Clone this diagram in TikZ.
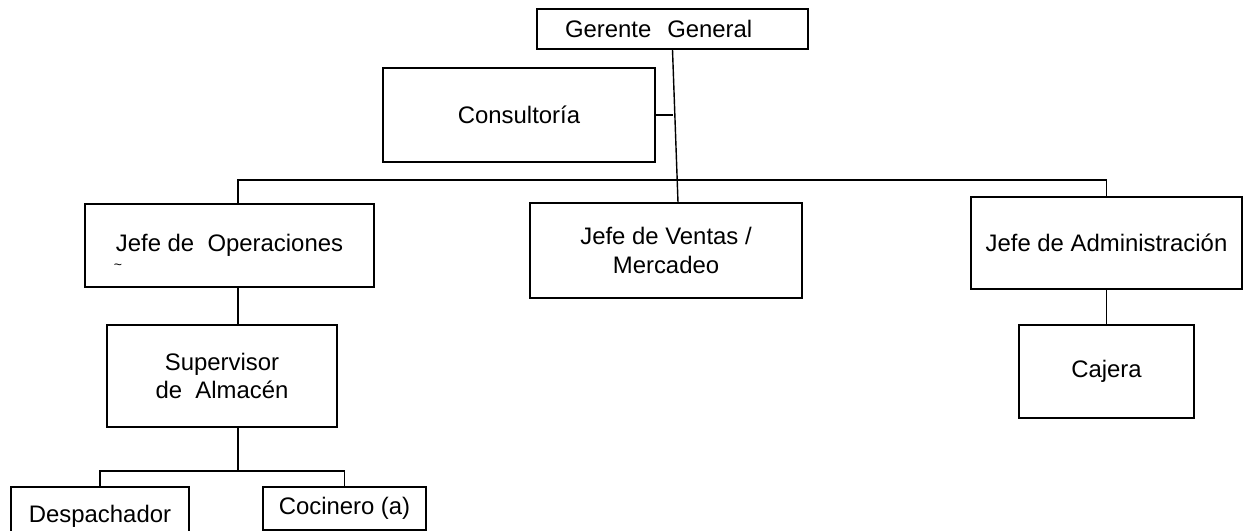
\documentclass[tikz,border=0pt]{standalone}
\usepackage{fontspec}
\setmainfont{Liberation Sans}
\usetikzlibrary{calc}

\tikzset{
    box/.style={draw, line width=0.8pt, inner sep=0pt, align=center,
        font=\fontsize{13.6}{16}\selectfont},
    conn/.style={line width=0.8pt}
}

\begin{document}
\begin{tikzpicture}[x=0.02cm, y=-0.02cm]

\clip (0,0) rectangle (1249,531);

% Top level
\node[box, minimum width=5.42cm, minimum height=0.8cm, text width=4.3cm,
      align=left, inner xsep=0.56cm] (gerente) at (672.5,29) {Gerente\ \ General};
\node[box, minimum width=5.44cm, minimum height=1.88cm] (consult) at (519,115) {Consultoría};

% Jefes
\node[box, minimum width=5.78cm, minimum height=1.66cm] (ops) at (229.5,245.5) {Jefe\ de\ \ Operaciones};
\node[font=\fontsize{8}{8}\selectfont, inner sep=0pt] (tilde) at (118,267) {\textasciitilde};
\node[box, minimum width=5.44cm, minimum height=1.9cm] (ventas) at (666,250.5) {Jefe de Ventas /\\Mercadeo};
\node[box, minimum width=5.42cm, minimum height=1.84cm] (admin) at (1106.5,243) {Jefe de Administración};

% Second level
\node[box, minimum width=4.6cm, minimum height=2.04cm] (super) at (222,376) {Supervisor\\de\ \ Almacén};
\node[box, minimum width=3.5cm, minimum height=1.86cm] (cajera) at (1106.5,371.5) {Cajera};

% Bottom
\node[box, minimum width=3.56cm, minimum height=1.16cm] (desp) at (100,516) {Despachador};
\node[box, minimum width=3.26cm, minimum height=0.86cm] (cocinero) at (344.5,508.5) {Cocinero (a)};

% Connectors
\coordinate (vtop) at ($(ventas.north)+(12,0)$);
\coordinate (busL) at (238,180);
\coordinate (busR) at (1106.5,180);
\coordinate (split) at (238,471);

\draw[conn] (gerente.south) -- (vtop);
\draw[conn] (consult.east) -- (consult.east -| gerente.south);
\draw[conn] (busL |- ops.north) -- (busL) -- (busR) -- (admin.north);
\draw[conn] (busL |- ops.south) -- (busL |- super.north);
\draw[conn] (admin.south) -- (cajera.north);
\draw[conn] (busL |- super.south) -- (split);
\draw[conn] (split) -| (desp.north);
\draw[conn] (split) -| (cocinero.north);

\end{tikzpicture}
\end{document}
